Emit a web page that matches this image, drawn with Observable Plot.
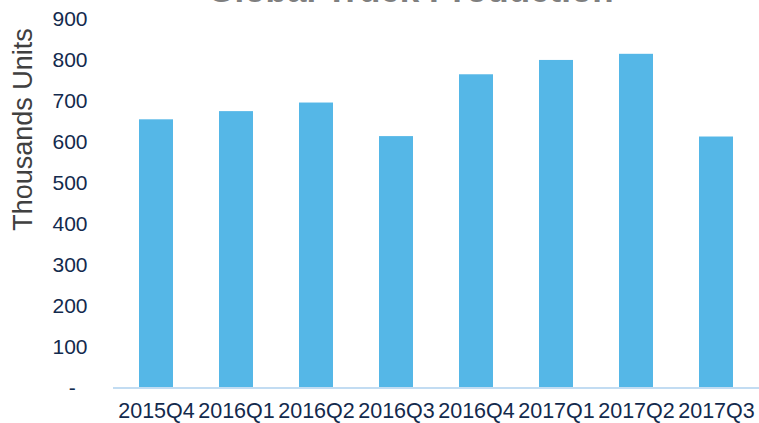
<!DOCTYPE html>
<html>
<head>
<meta charset="utf-8">
<script src="https://cdn.jsdelivr.net/npm/d3@7"></script>
<script src="https://cdn.jsdelivr.net/npm/@observablehq/plot@0.6"></script>
<style>
  html, body { margin: 0; padding: 0; background: #fff; }
  svg { display: block; }
</style>
</head>
<body>
<div id="chart"></div>
<script>
const quarters = ["2015Q4", "2016Q1", "2016Q2", "2016Q3", "2016Q4", "2017Q1", "2017Q2", "2017Q3"];
const production = [655, 675, 696, 614, 765, 800, 815, 613];
const yTicks = [0, 100, 200, 300, 400, 500, 600, 700, 800, 900];
const title = "Global Truck Production";
const yLabel = "Thousands Units";

const data = quarters.map((q, i) => ({quarter: q, value: production[i]}));

const chart = Plot.plot({
  width: 759,
  height: 423,
  marginLeft: 113,
  marginRight: 0,
  marginTop: 19,
  marginBottom: 35.5,
  style: {fontFamily: "'Liberation Sans', Arial, sans-serif", background: "#fff", overflow: "visible"},
  x: {domain: quarters, paddingInner: 0.58, paddingOuter: 0.28, label: null},
  y: {domain: [0, 900], label: null},
  marks: [
    Plot.barY(data, {x: "quarter", y: "value", fill: "#55b7e7"}),
    Plot.ruleY([0], {stroke: "#c2dcf2", strokeWidth: 2}),
    Plot.axisX({tickSize: 0, tickPadding: 15, fontSize: 21.5, color: "#132a4d", label: null}),
    Plot.axisY({ticks: yTicks, tickSize: 0, tickPadding: 26, fontSize: 21, color: "#132a4d", label: null,
      tickFormat: d => d === 0 ? "-\u00a0\u00a0" : String(d)}),
    Plot.text([yLabel], {frameAnchor: "top-left", dx: -90, dy: 110, rotate: -90, textAnchor: "middle", lineAnchor: "middle", fontSize: 27, fill: "#404040"}),
    Plot.text([title], {frameAnchor: "top", dx: -26, dy: -17.5, lineAnchor: "bottom", fontSize: 35, fontWeight: "bold", fill: "#7f7f7f"})
  ]
});
document.getElementById("chart").appendChild(chart);
</script>
</body>
</html>
